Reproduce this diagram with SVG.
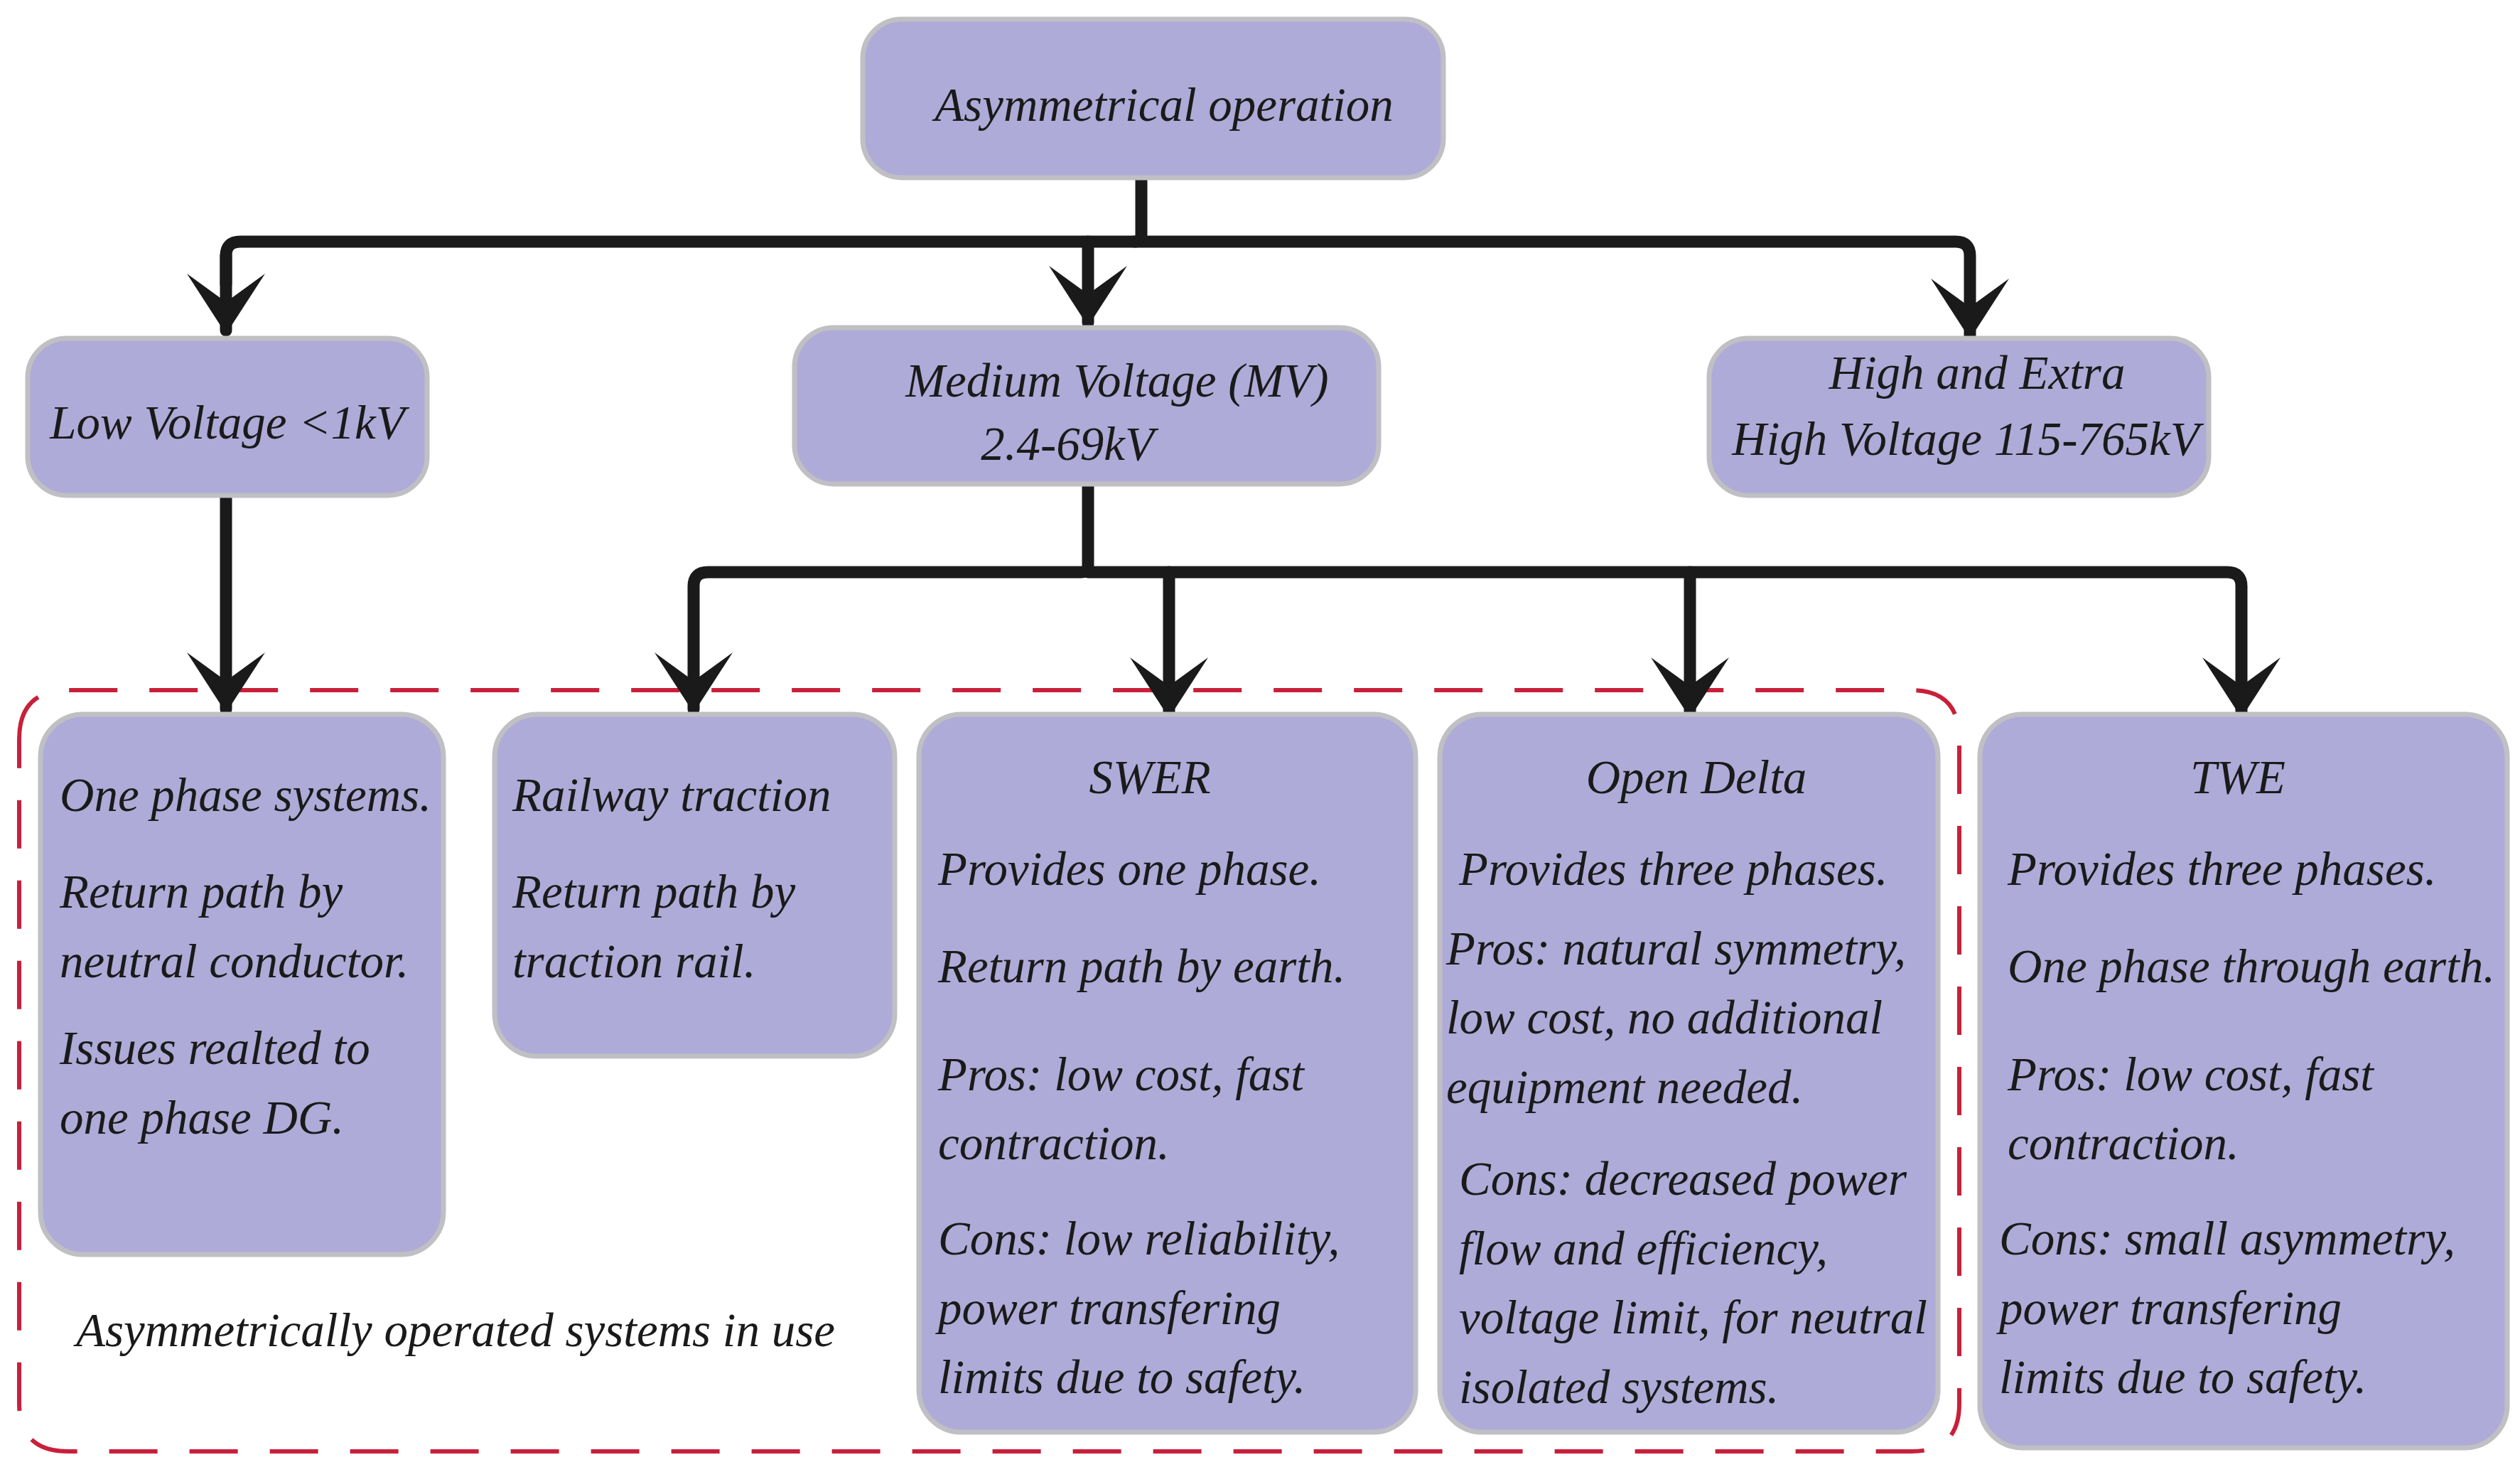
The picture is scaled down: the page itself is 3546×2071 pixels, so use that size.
<svg xmlns="http://www.w3.org/2000/svg" width="3546" height="2071" viewBox="0 0 3546 2071">
<style>
.n{fill:#AEABD8;stroke:#BFBFC4;stroke-width:7}
.t{font-family:"Liberation Serif",serif;font-style:italic;font-size:67px;fill:#1a1a1a}
.c{text-anchor:middle}
.w{fill:none;stroke:#1a1a1a;stroke-width:17;stroke-linejoin:round;stroke-linecap:round}
</style>
<defs>
<marker id="a" markerUnits="userSpaceOnUse" markerWidth="110" markerHeight="100" refX="55" refY="90" orient="0" viewBox="0 0 110 100">
<path d="M0,10 L55,50 L110,10 L55,95 Z" fill="#1a1a1a"/>
</marker>
</defs>
<rect width="3546" height="2071" fill="#fff"/>
<path d="M27,1040 Q27,971 96,971 H2690 Q2757,971 2757,1040 V1975 Q2757,2042 2690,2042 H96 Q27,2042 27,1975 Z" fill="none" stroke="#C8203A" stroke-width="6" stroke-dasharray="68,45"/>
<g id="connectors">
<path class="w" d="M1606,250 V330 Q1606,340 1596,340 H338 Q318,340 318,360 V400" />
<path class="w" d="M318,360 V465" marker-end="url(#a)"/>
<path class="w" d="M1531,340 V454" marker-end="url(#a)"/>
<path class="w" d="M1596,340 H2752 Q2772,340 2772,360 V472" marker-end="url(#a)"/>
<path class="w" d="M318,697 V998" marker-end="url(#a)"/>
<path class="w" d="M1531,681 V795 Q1531,805 1521,805 H996 Q976,805 976,825 V998" marker-end="url(#a)"/>
<path class="w" d="M1531,805 H3134 Q3154,805 3154,825 V1005" marker-end="url(#a)"/>
<path class="w" d="M1645,805 V1005" marker-end="url(#a)"/>
<path class="w" d="M2378,805 V1005" marker-end="url(#a)"/>
</g>
<g id="top"><rect class="n" x="1214" y="27" width="817" height="223" rx="55"/><text class="t c" x="1638" y="170">Asymmetrical operation</text></g>
<g id="lv"><rect class="n" x="39" y="476" width="562" height="221" rx="55"/><text class="t c" x="320" y="617">Low Voltage &lt;1kV</text></g>
<g id="mv"><rect class="n" x="1118" y="461" width="822" height="220" rx="55"/><text class="t c" x="1572" y="558">Medium Voltage (MV)</text><text class="t c" x="1502" y="647">2.4-69kV</text></g>
<g id="hv"><rect class="n" x="2405" y="476" width="703" height="221" rx="55"/><text class="t c" x="2782" y="547">High and Extra</text><text class="t c" x="2766" y="640">High Voltage 115-765kV</text></g>
<g id="onephase"><rect class="n" x="57" y="1005" width="567" height="760" rx="60"/>
<text class="t" x="84" y="1141">One phase systems.</text><text class="t" x="84" y="1277">Return path by</text><text class="t" x="84" y="1375">neutral conductor.</text><text class="t" x="84" y="1497">Issues realted to</text><text class="t" x="84" y="1595">one phase DG.</text></g>
<g id="railway"><rect class="n" x="696" y="1005" width="563" height="481" rx="60"/>
<text class="t" x="721" y="1141">Railway traction</text><text class="t" x="721" y="1277">Return path by</text><text class="t" x="721" y="1375">traction rail.</text></g>
<g id="swer"><rect class="n" x="1293" y="1005" width="699" height="1010" rx="60"/>
<text class="t c" x="1618" y="1116">SWER</text><text class="t" x="1320" y="1245">Provides one phase.</text><text class="t" x="1320" y="1382">Return path by earth.</text><text class="t" x="1320" y="1534">Pros: low cost, fast</text><text class="t" x="1320" y="1631">contraction.</text><text class="t" x="1320" y="1765">Cons: low reliability,</text><text class="t" x="1320" y="1863">power transfering</text><text class="t" x="1320" y="1960">limits due to safety.</text></g>
<g id="opendelta"><rect class="n" x="2026" y="1005" width="701" height="1010" rx="60"/>
<text class="t c" x="2387" y="1116">Open Delta</text><text class="t" x="2053" y="1245">Provides three phases.</text><text class="t" x="2035" y="1357">Pros: natural symmetry,</text><text class="t" x="2035" y="1454">low cost, no additional</text><text class="t" x="2035" y="1552">equipment needed.</text><text class="t" x="2053" y="1681">Cons: decreased power</text><text class="t" x="2053" y="1779">flow and efficiency,</text><text class="t" x="2053" y="1876">voltage limit, for neutral</text><text class="t" x="2053" y="1974">isolated systems.</text></g>
<g id="twe"><rect class="n" x="2786" y="1005" width="742" height="1032" rx="60"/>
<text class="t c" x="3149" y="1116">TWE</text><text class="t" x="2825" y="1245">Provides three phases.</text><text class="t" x="2825" y="1382">One phase through earth.</text><text class="t" x="2825" y="1534">Pros: low cost, fast</text><text class="t" x="2825" y="1631">contraction.</text><text class="t" x="2813" y="1765">Cons: small asymmetry,</text><text class="t" x="2813" y="1863">power transfering</text><text class="t" x="2813" y="1960">limits due to safety.</text></g>
<text class="t" x="107" y="1894">Asymmetrically operated systems in use</text>
</svg>
